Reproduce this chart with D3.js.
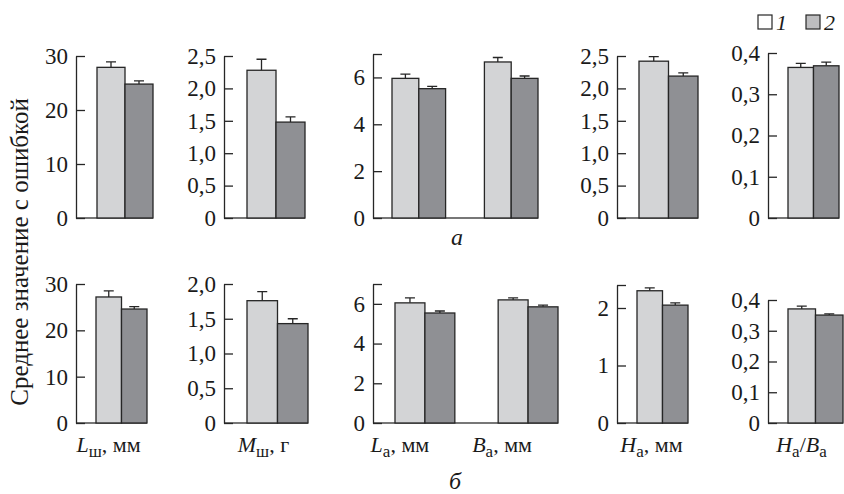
<!DOCTYPE html>
<html>
<head>
<meta charset="utf-8">
<script src="https://cdn.jsdelivr.net/npm/d3@7"></script>
<style>
  body { margin: 0; background: #fff; }
</style>
</head>
<body>
<div id="chart"></div>
<script>
// categories (markup: *x* italic, ~x~ subscript)
var categories = ["*L*~ш~, мм", "*M*~ш~, г", "*L*~а~, мм", "*B*~а~, мм", "*H*~а~, мм", "*H*~а~/*B*~а~"]
// which categories go into which panel
var panelCats = [[0], [1], [2, 3], [4], [5]]

// row "а"
var mean1A = [27.9, 2.28, 5.96, 6.66, 2.42, 0.365]
var err1A = [1.0, 0.17, 0.18, 0.19, 0.07, 0.010]
var mean2A = [24.8, 1.48, 5.52, 5.96, 2.19, 0.369]
var err2A = [0.6, 0.08, 0.10, 0.10, 0.05, 0.009]
var yMaxA = [30, 2.5, 7, 2.5, 0.4]
var ticksA = [[0, 10, 20, 30], [0, 0.5, 1, 1.5, 2, 2.5], [0, 2, 4, 6], [0, 0.5, 1, 1.5, 2, 2.5], [0, 0.1, 0.2, 0.3, 0.4]]

// row "б"
var mean1B = [27.2, 1.76, 6.05, 6.20, 2.30, 0.371]
var err1B = [1.3, 0.13, 0.25, 0.10, 0.05, 0.009]
var mean2B = [24.6, 1.43, 5.54, 5.85, 2.05, 0.351]
var err2B = [0.5, 0.07, 0.10, 0.09, 0.04, 0.004]
var yMaxB = [30, 2.0, 7, 2.4, 0.4]
var ticksB = [[0, 10, 20, 30], [0, 0.5, 1, 1.5, 2], [0, 2, 4, 6], [0, 1, 2], [0, 0.1, 0.2, 0.3, 0.4]]

var seriesNames = ["1", "2"]
var rowNames = ["а", "б"]
var yTitle = "Среднее значение с ошибкой"

var fills = ["#d3d4d6", "#8f9094"]
var legendFills = ["#ffffff", "#bdbdbf"]
var ink = "#262626"
var serif = "'Liberation Serif'"

var rows = [
  { m1: mean1A, e1: err1A, m2: mean2A, e2: err2A, yMax: yMaxA, ticks: ticksA,
    y0: 218, tops: [56, 56, 54, 56, 53],
    x0: [97, 247, 392, 639, 788], x1: [153, 305, 538, 698, 839] },
  { m1: mean1B, e1: err1B, m2: mean2B, e2: err2B, yMax: yMaxB, ticks: ticksB,
    y0: 423, tops: [284, 284, 284, 285, 300],
    x0: [96, 247, 395, 637, 788], x1: [147, 308, 558, 688, 843] }
]
var axisX = [76, 224, 373, 617, 768]
var labelDx = [-13, -14, -25, -26, -11, -14]

var svg = d3.select("#chart").append("svg")
  .attr("width", 844)
  .attr("height", 494)
  .style("display", "block")

function fmt(ticks) {
  var dec = ticks.some(t => t % 1 !== 0) ? 1 : 0
  return d => d === 0 ? "0" : d3.format("." + dec + "f")(d).replace(".", ",")
}

function richText(sel, markup, subSize) {
  var parts = markup.split(/(\*[^*]+\*|~[^~]+~)/).filter(p => p.length)
  var shift = 0
  parts.forEach(p => {
    var t = sel.append("tspan")
    if (p[0] === "*") {
      t.text(p.slice(1, -1)).style("font-style", "italic").attr("dy", -shift)
      shift = 0
    } else if (p[0] === "~") {
      t.text(p.slice(1, -1)).style("font-size", subSize + "px").attr("dy", 5 - shift)
      shift = 5
    } else {
      t.text(p).attr("dy", -shift)
      shift = 0
    }
  })
}

rows.forEach((row, r) => {
  panelCats.forEach((cats, p) => {
    var y = d3.scaleLinear()
      .domain([0, row.yMax[p]])
      .range([row.y0, row.tops[p]])

    var x = d3.scaleBand()
      .domain(cats)
      .range([row.x0[p], row.x1[p]])
      .paddingInner(cats.length > 1 ? 0.42 : 0)

    var xs = d3.scaleBand()
      .domain([0, 1])
      .range([0, x.bandwidth()])

    var g = svg.append("g")

    // baseline
    g.append("line")
      .attr("x1", axisX[p])
      .attr("x2", row.x1[p])
      .attr("y1", row.y0)
      .attr("y2", row.y0)
      .attr("stroke", "#4a4a4a")
      .attr("stroke-width", 1.6)

    var bars = []
    cats.forEach(c => {
      bars.push({ cat: c, s: 0, v: row.m1[c], e: row.e1[c] })
      bars.push({ cat: c, s: 1, v: row.m2[c], e: row.e2[c] })
    })

    // error bars (upper only)
    g.selectAll("errs")
      .data(bars)
      .enter()
      .append("path")
      .attr("d", d => {
        var cx = x(d.cat) + xs(d.s) + xs.bandwidth() / 2
        return "M" + cx + "," + y(d.v) + "V" + y(d.v + d.e) +
          "M" + (cx - 5) + "," + y(d.v + d.e) + "H" + (cx + 5)
      })
      .attr("fill", "none")
      .attr("stroke", ink)
      .attr("stroke-width", 1.3)

    g.selectAll("bars")
      .data(bars)
      .enter()
      .append("rect")
      .attr("x", d => x(d.cat) + xs(d.s))
      .attr("y", d => y(d.v))
      .attr("width", xs.bandwidth())
      .attr("height", d => row.y0 - y(d.v))
      .attr("fill", d => fills[d.s])
      .attr("stroke", ink)
      .attr("stroke-width", 1.3)

    // y axis, ticks pointing inward
    var tv = row.ticks[p].slice()
    if (tv.indexOf(row.yMax[p]) < 0) tv.push(row.yMax[p])
    var f = fmt(row.ticks[p])
    var ax = g.append("g")
      .attr("transform", "translate(" + axisX[p] + ",0)")
      .call(d3.axisLeft(y)
        .tickValues(tv)
        .tickSize(-9)
        .tickSizeOuter(0)
        .tickPadding(8)
        .tickFormat(d => row.ticks[p].indexOf(d) >= 0 ? f(d) : ""))
    ax.select(".domain").attr("stroke", ink).attr("stroke-width", 1.3)
    ax.selectAll(".tick line").attr("stroke", ink).attr("stroke-width", 1.3)
    ax.selectAll(".tick text")
      .attr("fill", "#1a1a1a")
      .style("font-size", "23px")

    // category labels under the lower row
    if (r === 1) {
      cats.forEach(c => {
        var t = svg.append("text")
          .attr("x", x(c) + x.bandwidth() / 2 + labelDx[c])
          .attr("y", 452)
          .attr("text-anchor", "middle")
          .style("font-size", "22px")
          .attr("fill", "#1a1a1a")
        richText(t, categories[c], 17)
      })
    }
  })
})

// row captions
svg.selectAll("rowcap")
  .data(rowNames)
  .enter()
  .append("text")
  .text(d => d)
  .attr("x", (d, i) => i === 0 ? 457 : 455)
  .attr("y", (d, i) => i === 0 ? 245 : 489)
  .attr("text-anchor", "middle")
  .style("font-style", "italic")
  .style("font-size", "24px")
  .attr("fill", "#1a1a1a")

// y title
svg.append("text")
  .text(yTitle)
  .attr("transform", "translate(28,252) rotate(-90)")
  .attr("text-anchor", "middle")
  .style("font-size", "25px")
  .attr("fill", "#1a1a1a")

// legend
var leg = svg.selectAll("legend")
  .data(seriesNames)
  .enter()
  .append("g")
  .attr("transform", (d, i) => "translate(" + (758 + i * 48) + ",15)")

leg.append("rect")
  .attr("width", 14)
  .attr("height", 14)
  .attr("fill", (d, i) => legendFills[i])
  .attr("stroke", ink)
  .attr("stroke-width", 1.2)

leg.append("text")
  .text(d => d)
  .attr("x", 18)
  .attr("y", 15)
  .style("font-style", "italic")
  .style("font-size", "22px")
  .attr("fill", "#1a1a1a")

// serif everywhere, set on each text node
svg.selectAll("text, tspan").style("font-family", serif)
</script>
</body>
</html>
